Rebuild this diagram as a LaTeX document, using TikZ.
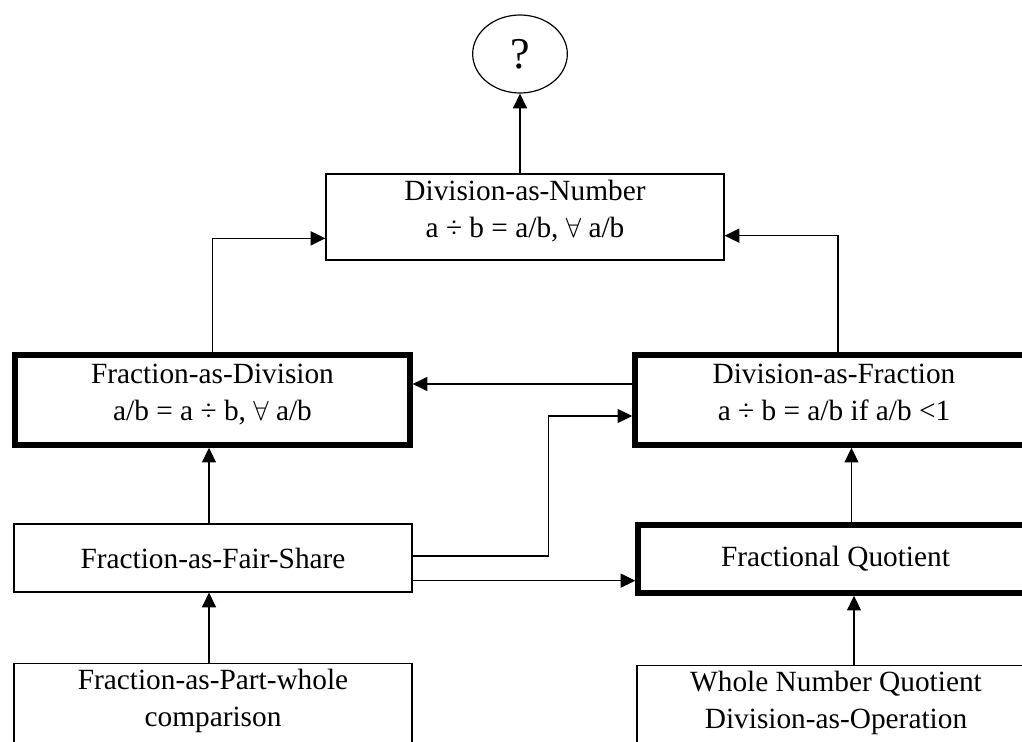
\documentclass[tikz,border=0pt]{standalone}
\usepackage{fontspec}
\setmainfont{Liberation Serif}
\usepackage{amssymb}
\usepackage{tikz}
\usetikzlibrary{shapes.geometric}
\usetikzlibrary{arrows.meta}
\tikzset{>={Triangle[width=10.5pt,length=11pt]}}
\tikzset{
  thinbox/.style={draw=black, line width=0.9pt, align=center, inner sep=0pt},
  thickbox/.style={draw=black, line width=4.2pt, align=center, inner sep=0pt}
}
\newcommand{\lowend}{\rule[-12pt]{0pt}{0pt}}

\begin{document}
\begin{tikzpicture}[x=0.75pt, y=-0.75pt, line width=1pt, font=\fontsize{22}{28}\selectfont]
    \useasboundingbox (0,0) rectangle (1022,742);
    \clip (0,0) rectangle (1022,742);
    \node[ellipse, draw=black, line width=0.9pt, minimum width=71pt, minimum height=58.5pt, inner sep=0pt, font=\fontsize{33}{36}\selectfont] (q) at (520,54) {?};
    \node[thinbox, minimum width=298.5pt, minimum height=64.5pt] (dan) at (525,217) {Division-as-Number\\a ÷ b = a/b, $\forall$ a/b\lowend};
    \node[thickbox, minimum width=296pt, minimum height=67.5pt] (fad) at (212.5,400) {Fraction-as-Division\\a/b = a ÷ b, $\forall$ a/b\lowend};
    \node[thickbox, minimum width=298.5pt, minimum height=67.5pt] (daf) at (834,400) {Division-as-Fraction\\a ÷ b = a/b if a/b <1\lowend};
    \node[thinbox, minimum width=298.5pt, minimum height=51pt] (fafs) at (213,558) {Fraction-as-Fair-Share};
    \node[thickbox, minimum width=296pt, minimum height=51pt] (fq) at (835.5,559) {Fractional Quotient};
    \node[thinbox, minimum width=298.5pt, minimum height=64pt] (fapw) at (213,706) {Fraction-as-Part-whole\\comparison\lowend};
    \node[thinbox, minimum width=298.5pt, minimum height=64pt] (wnq) at (836,708) {Whole Number Quotient\\Division-as-Operation\lowend};
    \draw[->] (dan.north -| q.south) -- (q.south);
    \draw[->] (fad.north) |- ([yshift=-16pt]dan.west);
    \draw[->] ([xshift=3pt]daf.north) |- ([yshift=-14pt]dan.east);
    \draw[->] ([yshift=12pt]daf.west) -- ([yshift=12pt]daf.west -| fad.east);
    \draw[->] ([yshift=1.5pt]fafs.east) -| ([xshift=-63pt,yshift=-12pt]daf.west) -- ([yshift=-12pt]daf.west);
    \draw[->] ([yshift=-17pt]fafs.east) -- ([yshift=-17pt]fafs.east -| fq.west);
    \draw[->] ([xshift=-3pt]fafs.north) -- ([xshift=-3pt]fafs.north |- fad.south);
    \draw[->] ([xshift=-3pt]fapw.north) -- ([xshift=-3pt]fapw.north |- fafs.south);
    \draw[->] ([xshift=12pt]fq.north) -- ([xshift=12pt]fq.north |- daf.south);
    \draw[->] ([xshift=13.5pt]wnq.north) -- ([xshift=13.5pt]wnq.north |- fq.south);
\end{tikzpicture}
\end{document}
